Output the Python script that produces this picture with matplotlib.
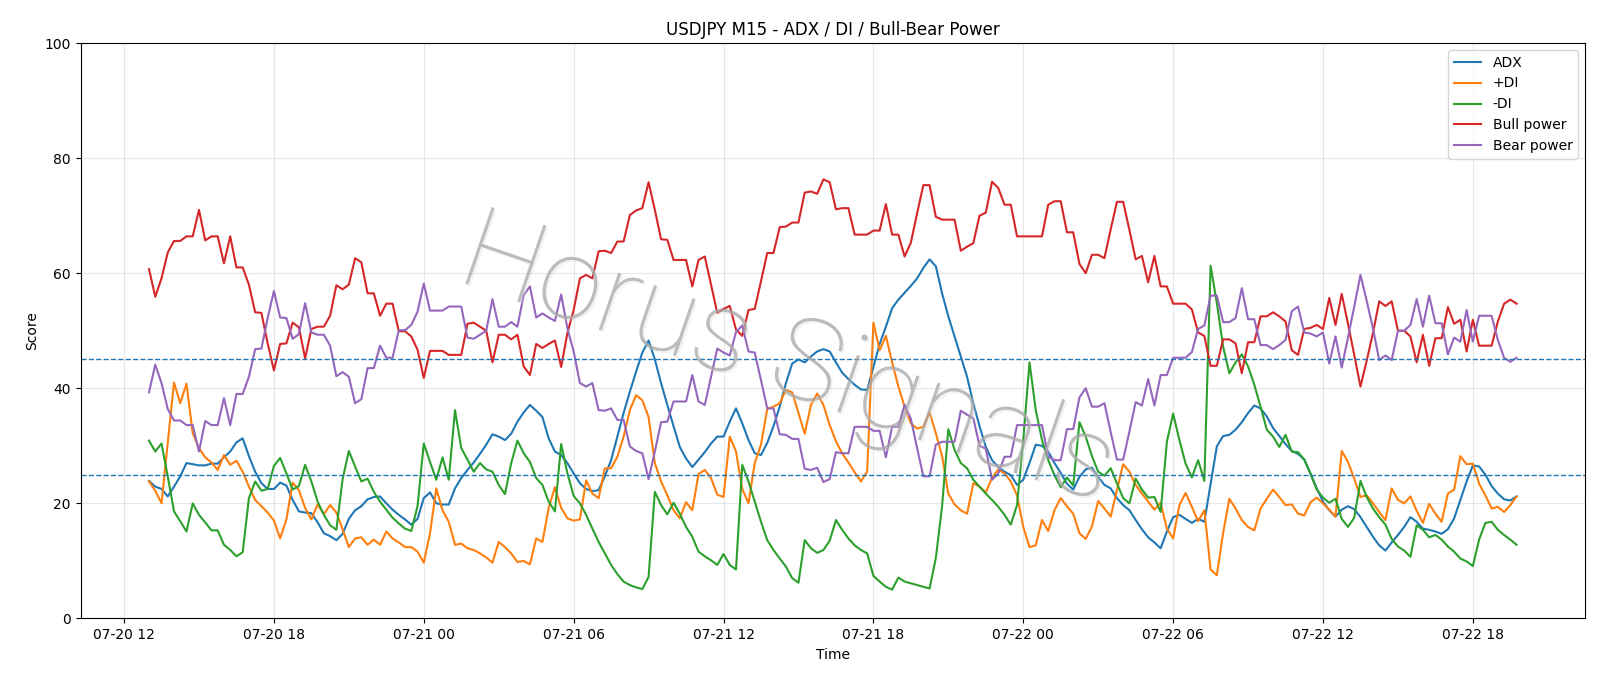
import matplotlib
matplotlib.use("Agg")
import matplotlib.pyplot as plt
import matplotlib.dates as mdates
import matplotlib.patheffects as pe
import pandas as pd

# 15-minute bars, USDJPY
start_time = "2024-07-20 13:00"

adx = [23.9, 22.9, 22.5, 21.2, 22.9, 24.7, 27.0, 26.8, 26.6, 26.6, 26.9, 26.9, 28.0, 29.0, 30.6, 31.3, 28.2, 25.5, 23.5, 22.5,
       22.5, 23.6, 23.1, 20.6, 18.6, 18.4, 18.3, 16.7, 14.8, 14.3, 13.6, 14.7, 17.3, 18.8, 19.5, 20.7, 21.1, 21.2,
       20.0, 18.9, 18.0, 17.2, 16.3, 17.3, 20.9, 21.9, 20.0, 19.8, 19.8, 22.6, 24.4, 25.8, 27.1, 28.6, 30.2, 32.0,
       31.6, 31.0, 32.1, 34.2, 35.8, 37.1, 36.1, 35.0, 31.3, 29.0, 28.4, 27.0, 25.2, 23.5, 22.5, 22.1, 22.3, 24.7, 27.5,
       31.6, 35.7, 39.4, 42.9, 46.2, 48.3, 45.0, 40.9, 37.1, 33.4, 29.8, 27.8, 26.3, 27.6, 28.9, 30.4, 31.6, 31.6,
       34.2, 36.5, 33.9, 31.0, 28.7, 28.4, 30.5, 33.4, 36.8, 40.9, 44.3, 45.0, 44.5, 45.5, 46.4, 46.8, 46.4, 44.5, 42.7,
       41.6, 40.6, 39.8, 39.7, 43.7, 47.7, 50.7, 53.9, 55.4, 56.6, 57.8, 59.1, 60.9, 62.4, 61.2, 56.5, 52.5, 49.0,
       45.5, 42.0, 37.4, 33.4, 29.8, 27.5, 26.3, 25.5, 24.9, 23.2, 24.1, 27.0, 30.2, 30.0, 29.0, 27.0, 25.3, 23.4,
       22.4, 24.6, 25.9, 26.2, 24.6, 23.2, 22.6, 20.9, 19.7, 18.8, 17.1, 15.5, 14.1, 13.2, 12.2, 15.1, 17.6, 18.0,
       17.3, 16.6, 17.3, 16.8, 23.4, 29.9, 31.7, 31.9, 32.8, 34.1, 35.7, 37.0, 36.5, 35.1, 33.1, 31.7, 30.3, 29.1,
       28.6, 27.6, 25.2, 22.6, 20.3, 18.8, 17.7, 18.9, 19.5, 19.0, 17.6, 15.9, 14.2, 12.7, 11.8, 13.2, 14.5, 15.9,
       17.6, 16.8, 15.6, 15.4, 15.1, 14.7, 15.5, 17.4, 20.6, 23.8, 26.6, 26.4, 25.0, 23.0, 21.7, 20.7, 20.5, 21.2]

plus_di = [23.8, 22.2, 20.0, 30.5, 41.0, 37.4, 40.8, 32.2, 29.6, 28.0, 27.1, 25.8, 28.4, 26.7, 27.4, 25.5, 22.9, 20.6, 19.5, 18.4,
           17.0, 13.9, 17.2, 23.6, 22.3, 19.2, 17.2, 19.8, 18.1, 19.7, 18.4, 15.5, 12.4, 13.9, 14.1, 12.8, 13.7, 12.8,
           15.1, 13.9, 13.2, 12.4, 12.4, 11.6, 9.7, 14.8, 22.6, 18.8, 16.8, 12.8, 13.0, 12.2, 11.9, 11.3, 10.6, 9.7,
           13.3, 12.4, 11.3, 9.8, 10.0, 9.4, 13.9, 13.3, 19.2, 22.8, 19.2, 17.4, 17.0, 17.2, 24.0, 21.7, 20.9, 26.1, 26.1,
           28.1, 31.6, 36.2, 38.8, 37.9, 35.0, 27.0, 23.8, 21.4, 18.8, 17.4, 20.2, 18.8, 25.1, 25.8, 24.4, 21.5, 21.1,
           31.6, 29.0, 22.5, 20.0, 27.0, 30.2, 36.4, 36.8, 37.4, 39.7, 39.3, 35.7, 32.1, 37.1, 39.1, 37.1, 33.6, 30.8, 28.7,
           27.1, 25.4, 23.8, 25.5, 51.4, 46.6, 49.1, 44.5, 40.3, 36.8, 33.9, 33.0, 33.3, 35.8, 32.2, 28.2, 21.7, 19.8,
           18.8, 18.2, 23.5, 22.9, 21.9, 24.4, 25.9, 25.2, 23.8, 21.4, 15.9, 12.4, 12.7, 17.1, 15.2, 18.8, 20.9, 19.5,
           18.2, 14.8, 13.8, 16.0, 20.4, 19.1, 17.7, 22.3, 26.8, 25.5, 23.2, 21.7, 20.3, 18.9, 20.1, 15.6, 13.9, 19.7,
           21.8, 19.4, 16.9, 18.8, 8.5, 7.5, 14.8, 20.8, 19.1, 17.1, 15.9, 15.3, 19.1, 20.8, 22.4, 21.1, 19.7, 19.8,
           18.2, 17.9, 20.2, 21.0, 20.0, 18.9, 17.7, 29.1, 27.2, 24.3, 21.1, 21.4, 20.0, 18.5, 17.1, 22.6, 20.6, 20.0,
           21.2, 18.7, 16.6, 19.9, 18.2, 16.8, 21.7, 22.4, 28.2, 26.8, 26.9, 23.4, 21.4, 19.1, 19.4, 18.5, 19.7, 21.2]

minus_di = [30.9, 29.0, 30.4, 24.7, 18.6, 16.9, 15.1, 20.0, 18.0, 16.7, 15.3, 15.3, 12.8, 11.9, 10.8, 11.5, 20.9, 23.8, 22.2, 22.5,
            26.5, 27.9, 25.2, 22.4, 23.0, 26.7, 23.8, 20.3, 18.0, 16.2, 15.4, 24.2, 29.1, 26.4, 23.8, 24.3, 22.0, 20.3,
            18.9, 17.5, 16.5, 15.6, 15.2, 19.5, 30.4, 27.2, 24.1, 28.0, 24.1, 36.2, 29.6, 27.6, 25.5, 27.0, 25.9, 25.5,
            23.2, 21.6, 27.0, 30.9, 28.7, 27.2, 24.4, 23.2, 20.3, 18.6, 30.3, 25.2, 21.3, 20.0, 18.0, 15.6, 13.3, 11.3, 9.3,
            7.7, 6.4, 5.8, 5.4, 5.1, 7.2, 22.0, 19.7, 18.1, 20.1, 18.2, 15.9, 14.2, 11.6, 10.8, 10.1, 9.3, 11.2,
            9.3, 8.5, 26.7, 23.8, 20.3, 16.8, 13.6, 11.9, 10.4, 9.0, 7.0, 6.2, 13.6, 12.2, 11.4, 11.9, 13.5, 17.1, 15.4,
            13.9, 12.7, 11.9, 11.3, 7.4, 6.4, 5.5, 5.0, 7.1, 6.4, 6.1, 5.8, 5.5, 5.2, 10.5, 19.5, 32.9, 29.3,
            27.0, 26.1, 24.1, 22.9, 21.7, 20.6, 19.4, 18.0, 16.3, 19.7, 31.0, 44.5, 36.2, 31.0, 27.5, 24.9, 22.8, 24.5,
            23.1, 34.1, 31.6, 28.2, 25.5, 24.8, 26.1, 23.5, 20.9, 20.0, 24.3, 22.4, 21.0, 21.1, 18.5, 30.7, 35.6, 31.0,
            26.9, 24.5, 27.5, 23.9, 61.3, 54.8, 47.3, 42.6, 44.5, 45.9, 43.8, 40.6, 36.8, 32.8, 31.6, 29.8, 31.9, 29.0,
            28.9, 27.6, 25.1, 22.4, 21.0, 20.1, 20.8, 17.3, 15.9, 17.5, 23.9, 21.1, 19.1, 17.6, 16.3, 13.8, 12.5, 11.8,
            10.7, 16.2, 15.4, 14.1, 14.5, 13.7, 12.5, 11.6, 10.4, 9.9, 9.1, 13.7, 16.6, 16.8, 15.4, 14.5, 13.7, 12.8]

bull_power = [60.7, 55.9, 59.1, 63.6, 65.6, 65.6, 66.4, 66.4, 71.0, 65.7, 66.4, 66.4, 61.7, 66.4, 61.0, 61.0, 58.0, 53.2, 53.1, 47.8,
              43.1, 47.7, 47.8, 51.4, 50.6, 45.2, 50.3, 50.7, 50.7, 52.6, 57.9, 57.2, 58.0, 62.6, 61.9, 56.5, 56.5, 52.6,
              54.7, 54.7, 49.9, 49.9, 49.0, 46.7, 41.8, 46.5, 46.5, 46.5, 45.8, 45.8, 45.8, 51.2, 51.4, 50.7, 50.0, 44.5,
              49.3, 49.3, 48.5, 49.3, 43.8, 42.3, 47.7, 47.0, 47.7, 48.3, 43.7, 49.6, 53.6, 59.1, 59.7, 59.1, 63.8, 63.9, 63.5,
              65.5, 65.5, 70.1, 70.9, 71.3, 75.8, 71.0, 65.9, 65.8, 62.3, 62.3, 62.3, 57.7, 62.3, 62.9, 58.0, 53.1, 53.8,
              54.3, 50.2, 49.1, 53.6, 53.8, 58.6, 63.5, 63.5, 68.0, 68.1, 68.8, 68.8, 74.0, 74.2, 73.8, 76.3, 75.8, 71.1, 71.3,
              71.3, 66.7, 66.7, 66.7, 67.4, 67.4, 72.0, 66.7, 66.7, 62.9, 65.3, 70.4, 75.3, 75.3, 69.8, 69.3, 69.3, 69.3,
              63.9, 64.6, 65.2, 70.0, 70.5, 75.9, 74.8, 71.9, 71.9, 66.4, 66.4, 66.4, 66.4, 66.4, 71.9, 72.5, 72.5, 67.1,
              67.1, 61.6, 60.0, 63.2, 63.2, 62.6, 67.6, 72.4, 72.4, 67.5, 62.4, 63.0, 58.4, 63.0, 57.7, 57.7, 54.7, 54.7,
              54.7, 53.7, 49.7, 49.1, 43.9, 43.9, 48.5, 48.5, 47.8, 42.6, 48.0, 48.0, 52.5, 52.5, 53.2, 52.5, 51.6, 46.6,
              45.8, 50.3, 50.5, 51.0, 50.3, 55.7, 51.0, 56.4, 51.2, 45.8, 40.3, 44.8, 49.6, 55.1, 54.3, 55.1, 50.0, 50.0,
              49.0, 44.5, 49.3, 43.9, 48.7, 48.7, 54.1, 51.2, 51.9, 46.4, 51.9, 47.4, 47.4, 47.4, 51.6, 54.7, 55.4, 54.7]

bear_power = [39.3, 44.1, 40.9, 36.4, 34.4, 34.4, 33.6, 33.6, 29.0, 34.3, 33.6, 33.6, 38.3, 33.6, 39.0, 39.0, 42.0, 46.8, 46.9, 52.2,
              56.9, 52.3, 52.2, 48.6, 49.4, 54.8, 49.7, 49.3, 49.3, 47.4, 42.1, 42.8, 42.0, 37.4, 38.1, 43.5, 43.5, 47.4,
              45.3, 45.3, 50.1, 50.1, 51.0, 53.3, 58.2, 53.5, 53.5, 53.5, 54.2, 54.2, 54.2, 48.8, 48.6, 49.3, 50.0, 55.5,
              50.7, 50.7, 51.5, 50.7, 56.2, 57.7, 52.3, 53.0, 52.3, 51.7, 56.3, 50.4, 46.4, 40.9, 40.3, 40.9, 36.2, 36.1, 36.5,
              34.5, 34.5, 29.9, 29.1, 28.7, 24.2, 29.0, 34.1, 34.2, 37.7, 37.7, 37.7, 42.3, 37.7, 37.1, 42.0, 46.9, 46.2,
              45.7, 49.8, 50.9, 46.4, 46.2, 41.4, 36.5, 36.5, 32.0, 31.9, 31.2, 31.2, 26.0, 25.8, 26.2, 23.7, 24.2, 28.9, 28.7,
              28.7, 33.3, 33.3, 33.3, 32.6, 32.6, 28.0, 33.3, 33.3, 37.1, 34.7, 29.6, 24.7, 24.7, 30.2, 30.7, 30.7, 30.7,
              36.1, 35.4, 34.8, 30.0, 29.5, 24.1, 25.2, 28.1, 28.1, 33.6, 33.6, 33.6, 33.6, 33.6, 28.1, 27.5, 27.5, 32.9,
              32.9, 38.4, 40.0, 36.8, 36.8, 37.4, 32.4, 27.6, 27.6, 32.5, 37.6, 37.0, 41.6, 37.0, 42.3, 42.3, 45.3, 45.3,
              45.3, 46.3, 50.3, 50.9, 56.1, 56.1, 51.5, 51.5, 52.2, 57.4, 52.0, 52.0, 47.5, 47.5, 46.8, 47.5, 48.4, 53.4,
              54.2, 49.7, 49.5, 49.0, 49.7, 44.3, 49.0, 43.6, 48.8, 54.2, 59.7, 55.2, 50.4, 44.9, 45.7, 44.9, 50.0, 50.0,
              51.0, 55.5, 50.7, 56.1, 51.3, 51.3, 45.9, 48.8, 48.1, 53.6, 48.1, 52.6, 52.6, 52.6, 48.4, 45.3, 44.6, 45.3]

levels = [45, 25]

times = pd.date_range(start_time, periods=len(adx), freq="15min")

fig = plt.figure(figsize=(16, 6.86), dpi=100)
ax = fig.add_axes([0.0504, 0.0985, 0.9402, 0.8388])

ax.plot(times, adx, label="ADX")
ax.plot(times, plus_di, label="+DI")
ax.plot(times, minus_di, label="-DI")
ax.plot(times, bull_power, label="Bull power")
ax.plot(times, bear_power, label="Bear power")

for lv in levels:
    ax.axhline(lv, linestyle="--", linewidth=1, color="C0")

# watermark
ax.text(0.47, 0.445, "Horus Signals", transform=ax.transAxes, fontsize=82,
        family="Roboto", fontweight=100,
        rotation=-19, rotation_mode="anchor", ha="center", va="center",
        color="#a8a8a8", alpha=0.5, zorder=5,
        path_effects=[pe.withSimplePatchShadow(offset=(1.5, -1.5), shadow_rgbFace="#d8d8d8", alpha=0.3),
                      pe.Normal()])

ax.set_ylim(0, 100)
ax.xaxis.set_major_locator(mdates.HourLocator(byhour=[0, 6, 12, 18]))
ax.xaxis.set_major_formatter(mdates.DateFormatter("%m-%d %H"))
ax.grid(True, alpha=0.3)
ax.set_title("USDJPY M15 - ADX / DI / Bull-Bear Power")
ax.set_xlabel("Time")
ax.set_ylabel("Score")
ax.legend(loc="upper right")

fig.savefig("out.png", dpi=100)
